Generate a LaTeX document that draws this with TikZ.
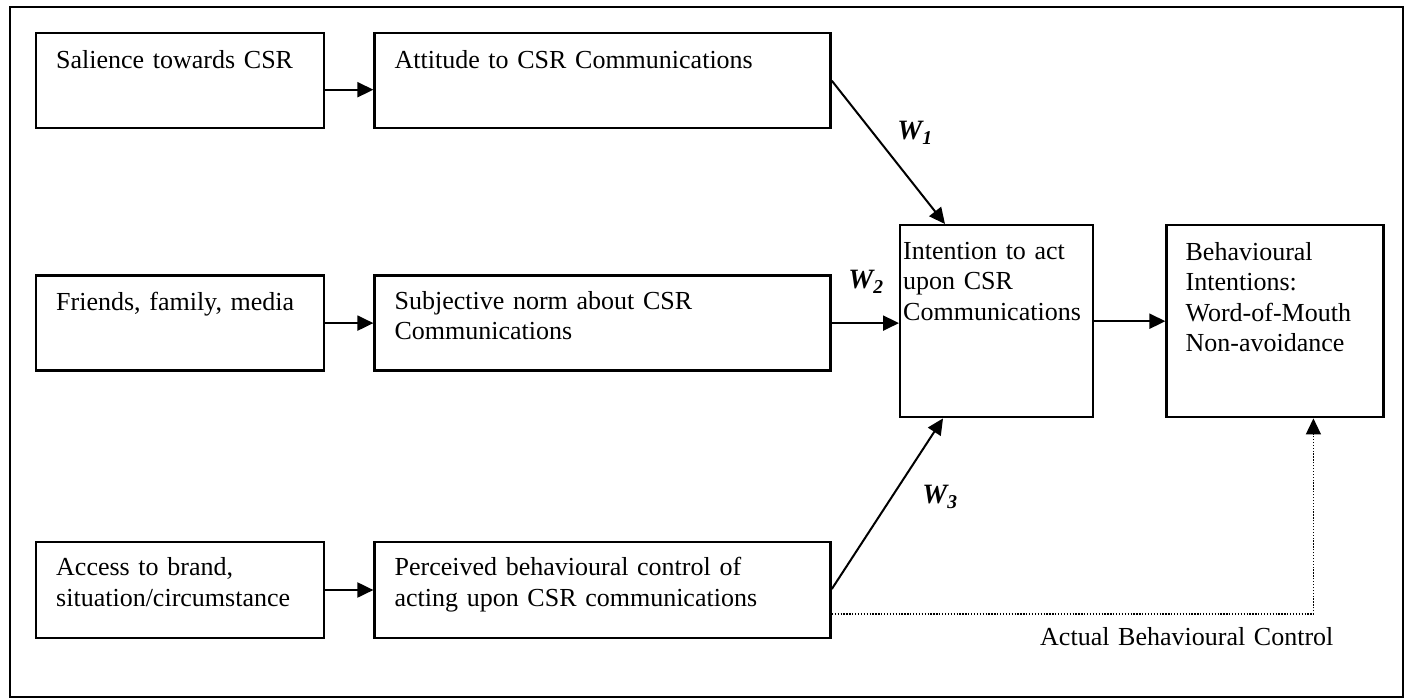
\documentclass[tikz,border=0pt]{standalone}
\usepackage{fontspec}
\setmainfont{Liberation Serif}
\usetikzlibrary{positioning,arrows.meta}
\tikzset{
  box/.style={draw, line width=2.4pt, inner sep=0pt, minimum height=95pt},
  txt/.style={inner sep=0pt, text width=430pt, align=left, anchor=base west, font=\fontsize{26}{30.5}\selectfont},
  wlabel/.style={inner sep=0pt, font=\fontsize{28}{30}\selectfont\bfseries\itshape},
  link/.style={->, line width=2pt},
}
\begin{document}
\begin{tikzpicture}[x=1pt,y=-1pt,>={Triangle[length=16pt,width=15pt]}]
        \useasboundingbox (0,0) rectangle (1410,699);
        % Rahmen
        \draw[line width=2.4pt] (10,7) rectangle (1403,697);
        % linke Spalte
        \node[box, minimum width=288pt, anchor=north west] (sal) at (35,32) {};
        \node[box, minimum width=288pt, below=145pt of sal] (fri) {};
        \node[box, minimum width=288pt, minimum height=96pt, below=169pt of fri] (acc) {};
        % mittlere Spalte
        \node[box, minimum width=456pt, right=48pt of sal] (att) {};
        \node[box, minimum width=456pt, right=48pt of fri] (sub) {};
        \node[box, minimum width=456pt, minimum height=96pt, right=48pt of acc] (per) {};
        % rechte Spalte
        \node[box, minimum width=193pt, minimum height=192pt, anchor=north west] (int) at (899,224) {};
        \node[box, minimum width=217pt, minimum height=192pt, right=71pt of int] (beh) {};
        % Texte
        \node[txt] (salt) at ([shift={(21pt,-36pt)}]sal.north west) {Salience towards CSR};
        \node[txt] (frit) at ([shift={(21pt,-36pt)}]fri.north west) {Friends, family, media};
        \node[txt] (acct) at ([shift={(21pt,-35pt)}]acc.north west) {Access to brand,\\situation/circumstance};
        \node[txt] (attt) at ([shift={(21pt,-36pt)}]att.north west) {Attitude to CSR Communications};
        \node[txt] (subt) at ([shift={(21pt,-35pt)}]sub.north west) {Subjective norm about CSR\\Communications};
        \node[txt] (pert) at ([shift={(21pt,-35pt)}]per.north west) {Perceived behavioural control of\\acting upon CSR communications};
        \node[txt] (intt) at ([shift={(4pt,-35pt)}]int.north west) {Intention to act\\upon CSR\\Communications};
        \node[txt] (beht) at ([shift={(20pt,-36pt)}]beh.north west) {Behavioural\\Intentions:\\Word-of-Mouth\\Non-avoidance};
        % Pfeile
        \coordinate (w1end) at ([xshift=46pt]int.north west);
        \coordinate (w3end) at ([xshift=44pt]int.south west);
        \coordinate (pbc) at ([xshift=148pt]beh.south west);
        \draw[link] ([yshift=-9pt]sal.east) -- ([yshift=-9pt]att.west);
        \draw[link] (fri.east) -- (sub.west);
        \draw[link] (acc.east) -- (per.west);
        \draw[link] (att.east) -- (w1end);
        \draw[link] (sub.east) -- (int.west |- sub.east);
        \draw[link] ([yshift=1pt]per.east) -- (w3end);
        \draw[link] (int.east) -- (beh.west);
        \draw[->, line width=1.3pt, dash pattern=on 1.3pt off 1.6pt] ([yshift=-24pt]per.east) -| (pbc);
        % Gewichte
        \node[wlabel] (w1) at (915,133) {W\textsubscript{1}};
        \node[wlabel] (w2) at (866,282) {W\textsubscript{2}};
        \node[wlabel] (w3) at (940,497) {W\textsubscript{3}};
        \node[txt, text width=300pt] (abc) at (1040,645) {Actual Behavioural Control};
    \end{tikzpicture}
\end{document}
